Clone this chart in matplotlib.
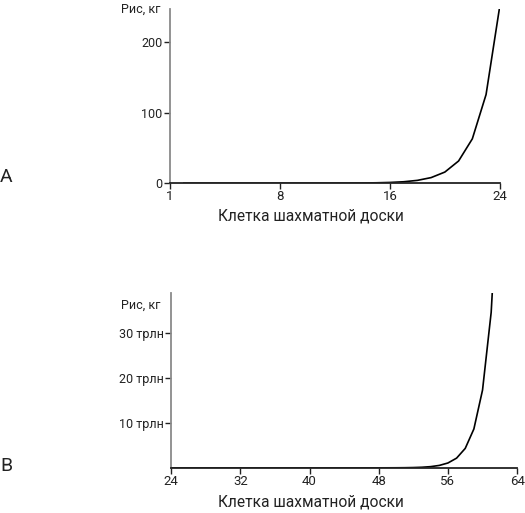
import matplotlib.pyplot as plt

plt.rcParams['font.family'] = ['Roboto', 'DejaVu Sans']

# rice on each chessboard square, kg (about 0.03 g per grain, doubling each square)
squares = list(range(1, 65))
rice_kg = [
    0.00003, 0.00006, 0.00012, 0.00024, 0.00048, 0.00096, 0.00192, 0.00384,
    0.00768, 0.01536, 0.03072, 0.06144, 0.12288, 0.24576, 0.49152, 0.98304,
    1.96608, 3.93216, 7.86432, 15.72864, 31.45728, 62.91456, 125.82912, 251.65824,
    503.31648, 1006.63296, 2013.26592, 4026.53184, 8053.06368, 16106.12736, 32212.25472, 64424.50944,
    128849.0, 257698.0, 515396.1, 1030792.2, 2061584.3, 4123168.6, 8246337.2, 16492674.4,
    32985348.8, 65970697.7, 131941395.3, 263882790.7, 527765581.3, 1.0555e9, 2.1111e9, 4.2221e9,
    8.4442e9, 1.68885e10, 3.3777e10, 6.7554e10, 1.35107e11, 2.70215e11, 5.40429e11, 1.080864e12,
    2.161727e12, 4.323455e12, 8.646911e12, 1.7293822e13, 3.4587645e13, 6.917529e13, 1.3835058e14, 2.7670116e14,
]

a_xticks = [0, 8, 16, 24]
a_xlabels = ['1', '8', '16', '24']
a_yticks = [0, 100, 200]
b_xticks = [24, 32, 40, 48, 56, 64]
b_yticks = [10e12, 20e12, 30e12]
b_ylabels = ['10 трлн', '20 трлн', '30 трлн']

fig = plt.figure(figsize=(5.25, 5.13), dpi=100)
axA = fig.add_axes([0.324, 0.643, 0.628, 0.339])
axB = fig.add_axes([0.326, 0.088, 0.659, 0.341])

grey = '#8a8a8a'
dark = '#222222'


def style(ax, lx, ly):
    for s in ['top', 'right']:
        ax.spines[s].set_visible(False)
    ax.spines['left'].set_color(grey)
    ax.spines['left'].set_linewidth(1.3)
    ax.spines['bottom'].set_color(dark)
    ax.spines['bottom'].set_linewidth(1.3)
    ax.tick_params(axis='y', length=4, width=1, color=dark, labelsize=9, labelcolor=dark, pad=1.5)
    ax.tick_params(axis='x', length=4, width=1, color=dark, labelsize=9.5, labelcolor=dark, pad=1)
    ax.set_xlabel('Клетка шахматной доски', fontsize=11.2, color=dark)
    ax.xaxis.set_label_coords(lx, ly)


# panel A
axA.plot(squares[:24], rice_kg[:24], color='black', lw=1.2)
axA.set_xlim(0, 24)
axA.set_ylim(0, 247)
axA.set_xticks(a_xticks)
axA.set_xticklabels(a_xlabels)
axA.set_yticks(a_yticks)
style(axA, 0.427, -0.144)
axA.text(-0.03, 1.0, 'Рис, кг', transform=axA.transAxes, ha='right', va='center', fontsize=9, color=dark)

# panel B
axB.plot(squares[23:], rice_kg[23:], color='black', lw=1.2)
axB.set_xlim(24, 64)
axB.set_ylim(0, 38.9e12)
axB.set_xticks(b_xticks)
axB.set_yticks(b_yticks)
axB.set_yticklabels(b_ylabels)
style(axB, 0.405, -0.154)
axB.text(-0.03, 0.93, 'Рис, кг', transform=axB.transAxes, ha='right', va='center', fontsize=9, color=dark)

fig.text(0.0, 1 - 177 / 513, 'А', fontsize=14, color=dark, va='center', ha='left')
fig.text(0.0, 1 - 466 / 513, 'В', fontsize=14, color=dark, va='center', ha='left')

fig.savefig('out.png', dpi=100)
